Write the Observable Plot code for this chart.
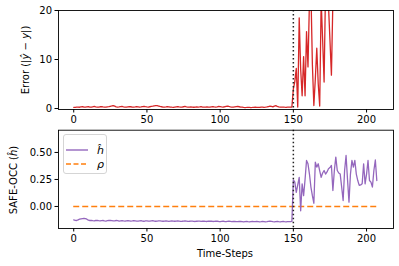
<!DOCTYPE html>
<html><head><meta charset="utf-8">
<script src="https://cdn.jsdelivr.net/npm/d3@7"></script>
<script src="https://cdn.jsdelivr.net/npm/@observablehq/plot@0.6"></script>
<style>
body{margin:0;background:#fff;font-family:"DejaVu Sans",sans-serif;}
#wrap{position:relative;width:399px;height:266px;overflow:hidden;background:#fff}
.pl{position:absolute;left:0}
.lab{position:absolute;font-size:10px;white-space:nowrap;color:#000;font-family:"DejaVu Sans",sans-serif;line-height:1}
.rot{transform:translate(-50%,-50%) rotate(-90deg)}
.hc{transform:translate(-50%,-50%)}
#legend{position:absolute;left:63px;top:134px;width:44px;height:40px;border:1px solid #d5d5d5;border-radius:3px;background:rgba(255,255,255,0.8);box-sizing:border-box}
#legend .row{position:absolute;left:2px;height:14px;display:flex;align-items:center}
#legend svg{display:block}
#legend span{font-size:11px;font-style:italic;margin-left:9px;font-family:"DejaVu Sans",sans-serif}
</style></head><body><div id="wrap"></div>
<script>
// ---- data ----
const xTicks = [0, 50, 100, 150, 200];
const errTicks = [0, 10, 20];
const occTicks = [0, 0.25, 0.5];
const changePoint = [150];
const rhoValue = [0];
const rhoSpan = [0, 207];

const errorBefore = [
0.25,0.22,0.28,0.3,0.26,0.35,0.4,0.3,0.28,0.33,0.38,0.3,0.27,0.35,0.42,0.33,0.3,0.28,0.36,0.4,0.32,0.27,0.3,0.35,0.38,0.45,0.52,0.6,0.48,0.35,
0.3,0.33,0.38,0.42,0.35,0.3,0.28,0.35,0.4,0.36,0.3,0.27,0.32,0.38,0.35,0.3,0.33,0.4,0.45,0.38,
0.33,0.3,0.36,0.42,0.48,0.55,0.6,0.58,0.5,0.42,0.36,0.3,0.28,0.32,0.38,0.35,0.3,0.27,0.25,0.3,
0.35,0.4,0.33,0.28,0.3,0.36,0.42,0.35,0.3,0.28,0.32,0.3,0.26,0.3,0.35,0.3,0.33,0.38,0.3,0.27,
0.3,0.34,0.3,0.27,0.32,0.37,0.33,0.3,0.35,0.42,0.38,0.33,0.3,0.36,0.45,0.5,0.42,0.35,0.3,0.28,
0.33,0.38,0.42,0.36,0.3,0.27,0.22,0.2,0.22,0.25,0.23,0.2,0.22,0.25,0.28,0.24,0.22,0.25,0.3,0.28,
0.25,0.28,0.32,0.4,0.48,0.42,0.33,0.5,0.58,0.45,0.35,0.3,0.28,0.3,0.27,0.25,0.28,0.3,0.28,0.3];
const errorAfter = [
4.0,5.5,8.2,0.3,18.5,8.0,2.6,10.6,2.6,15.7,8.5,22,24,9,0.6,6,12.3,5,0.5,22,14,5.4,25,23,21,14,6.8,22,20.5,
28,35,42,30,26,38,45,33,29,40,36,31,27,44,50,37,32,28,41,46,34,30,39,43,35,29,33,38,31];

const hBefore = [
-0.125,-0.128,-0.13,-0.124,-0.118,-0.114,-0.112,-0.11,-0.113,-0.118,
-0.127,-0.13,-0.128,-0.131,-0.133,-0.13,-0.129,-0.132,-0.134,-0.131,
-0.13,-0.133,-0.135,-0.132,-0.13,-0.128,-0.131,-0.134,-0.133,-0.13,
-0.132,-0.135,-0.133,-0.131,-0.134,-0.136,-0.133,-0.131,-0.133,-0.135,
-0.134,-0.132,-0.134,-0.136,-0.135,-0.133,-0.132,-0.135,-0.137,-0.134,
-0.133,-0.135,-0.136,-0.134,-0.132,-0.135,-0.137,-0.136,-0.134,-0.133,
-0.135,-0.137,-0.135,-0.134,-0.136,-0.138,-0.136,-0.134,-0.135,-0.137,
-0.136,-0.134,-0.136,-0.138,-0.137,-0.135,-0.134,-0.136,-0.138,-0.137,
-0.135,-0.136,-0.138,-0.139,-0.137,-0.135,-0.136,-0.138,-0.137,-0.136,
-0.138,-0.139,-0.137,-0.135,-0.137,-0.139,-0.138,-0.136,-0.137,-0.139,
-0.14,-0.138,-0.137,-0.139,-0.14,-0.138,-0.137,-0.139,-0.141,-0.139,
-0.138,-0.14,-0.141,-0.139,-0.138,-0.14,-0.142,-0.14,-0.139,-0.141,
-0.142,-0.14,-0.139,-0.141,-0.14,-0.138,-0.14,-0.142,-0.141,-0.139,
-0.14,-0.142,-0.141,-0.139,-0.137,-0.139,-0.141,-0.142,-0.14,-0.139,
-0.141,-0.142,-0.14,-0.139,-0.141,-0.142,-0.141,-0.14,-0.141,-0.139];
const hAfter = [
0.247,0.225,0.13,0.20,0.27,-0.04,0.21,0.10,0.25,0.426,
0.395,0.30,0.18,0.10,0.03,0.41,0.364,0.395,0.33,0.27,
0.31,0.333,0.30,0.32,0.35,0.36,0.38,0.148,0.333,0.457,
0.333,0.31,0.30,0.18,0.055,0.333,0.472,0.25,0.04,0.30,
0.426,0.364,0.426,0.30,0.24,0.195,0.20,0.21,0.395,0.21,
0.30,0.426,0.24,0.225,0.18,0.333,0.43,0.24];

// ---- build ----
(function () {
const errorVals = errorBefore.concat(errorAfter);
const hVals = hBefore.concat(hAfter);
const errRows = errorVals.map((v, i) => ({t: i, v}));
const hRows = hVals.map((v, i) => ({t: i, v}));

const style = {fontFamily: "DejaVu Sans", fontSize: "10px", background: "transparent", color: "black", overflow: "visible"};
const xDomain = [-10.4, 218.4];

const topPlot = Plot.plot({
  width: 399, height: 126, marginLeft: 58, marginRight: 6, marginTop: 10, marginBottom: 17,
  style,
  x: {domain: xDomain}, y: {domain: [-0.2, 20]},
  marks: [
    Plot.line(errRows, {x: "t", y: "v", stroke: "#d62728", strokeWidth: 1.3, clip: true}),
    Plot.ruleX(changePoint, {stroke: "#222", strokeDasharray: "1.5,2.5", strokeWidth: 1.5}),
    Plot.frame({stroke: "black", strokeWidth: 0.9}),
    Plot.axisX({ticks: xTicks, tickSize: 3.5, tickPadding: 3, label: null}),
    Plot.axisY({ticks: errTicks, tickSize: 3.5, tickPadding: 3, label: null})
  ]
});
topPlot.classList.add("pl"); topPlot.style.top = "0px";

const bottomPlot = Plot.plot({
  width: 399, height: 140, marginLeft: 58, marginRight: 6, marginTop: 3.7, marginBottom: 38,
  style,
  x: {domain: xDomain}, y: {domain: [-0.204, 0.706]},
  marks: [
    Plot.ruleY(rhoValue, {x1: rhoSpan[0], x2: rhoSpan[1], stroke: "#ff7f0e", strokeWidth: 1.4, strokeDasharray: "6,3"}),
    Plot.line(hRows, {x: "t", y: "v", stroke: "#9467bd", strokeWidth: 1.3, clip: true}),
    Plot.ruleX(changePoint, {stroke: "#222", strokeDasharray: "1.5,2.5", strokeWidth: 1.5}),
    Plot.frame({stroke: "black", strokeWidth: 0.9}),
    Plot.axisX({ticks: xTicks, tickSize: 3.5, tickPadding: 3, label: null}),
    Plot.axisY({ticks: occTicks, tickSize: 3.5, tickPadding: 3, tickFormat: d3.format(".2f"), label: null})
  ]
});
bottomPlot.classList.add("pl"); bottomPlot.style.top = "126px";

const wrap = document.getElementById("wrap");
wrap.appendChild(topPlot);
wrap.appendChild(bottomPlot);

function label(html, x, y, cls) {
  const d = document.createElement("div");
  d.className = "lab " + cls;
  d.style.left = x + "px"; d.style.top = y + "px";
  d.innerHTML = html;
  wrap.appendChild(d);
}
label("Error (|<i>ŷ</i> − <i>y</i>|)", 26, 60, "rot");
label("SAFE-OCC (<i>ĥ</i>)", 14, 180, "rot");
label("Time-Steps", 225, 254, "hc");

const lg = document.createElement("div");
lg.id = "legend";
lg.innerHTML =
  '<div class="row" style="top:8px"><svg width="22" height="4"><line x1="0" y1="2" x2="22" y2="2" stroke="#9467bd" stroke-width="1.4"/></svg><span>ĥ</span></div>' +
  '<div class="row" style="top:22px"><svg width="22" height="4"><line x1="0" y1="2" x2="22" y2="2" stroke="#ff7f0e" stroke-width="1.4" stroke-dasharray="5,2.5"/></svg><span>ρ</span></div>';
wrap.appendChild(lg);
})();
</script>
</body></html>
